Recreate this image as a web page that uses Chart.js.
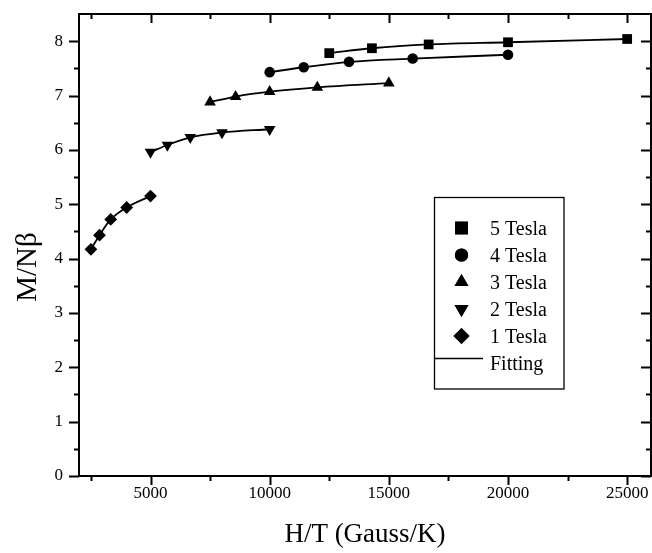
<!DOCTYPE html>
<html>
<head>
<meta charset="utf-8">
<title>M/Nβ vs H/T</title>
<script src="https://cdn.jsdelivr.net/npm/chart.js@4.4.0/dist/chart.umd.min.js"></script>
<style>
  body { margin: 0; background: #fff; }
  #wrap { width: 652px; height: 553px; }
</style>
</head>
<body>
<div id="wrap"><canvas id="c" width="652" height="553"></canvas></div>
<script>
// values
const seriesNames = ['5 Tesla', '4 Tesla', '3 Tesla', '2 Tesla', '1 Tesla'];
const hT5 = [12500, 14290, 16670, 20000, 25000];
const m5  = [7.78, 7.87, 7.94, 7.98, 8.04];
const hT4 = [10000, 11430, 13330, 16000, 20000];
const m4  = [7.43, 7.52, 7.62, 7.68, 7.75];
const hT3 = [7500, 8570, 10000, 12000, 15000];
const m3  = [6.88, 6.98, 7.07, 7.15, 7.23];
const hT2 = [5000, 5710, 6670, 8000, 10000];
const m2  = [5.96, 6.09, 6.23, 6.32, 6.38];
const hT1 = [2500, 2860, 3330, 4000, 5000];
const m1  = [4.17, 4.43, 4.72, 4.94, 5.15];
const xTickLabels = [5000, 10000, 15000, 20000, 25000];
const yTickLabels = [0, 1, 2, 3, 4, 5, 6, 7, 8];

const FONT = "'Liberation Serif', 'Times New Roman', serif";
const xs = [hT5, hT4, hT3, hT2, hT1];
const ys = [m5, m4, m3, m2, m1];
const shapes = [
  { pointStyle: 'rect', radius: 6.9, rotation: 0 },
  { pointStyle: 'circle', radius: 5.3, rotation: 0 },
  { pointStyle: 'triangle', radius: 6.7, rotation: 0 },
  { pointStyle: 'triangle', radius: 6.7, rotation: 180 },
  { pointStyle: 'rectRot', radius: 6.4, rotation: 0 }
];

const xMinor = [2500, 7500, 12500, 17500, 22500];
const yMinor = [0.5, 1.5, 2.5, 3.5, 4.5, 5.5, 6.5, 7.5];

const datasets = seriesNames.map((name, i) => ({
  label: name,
  data: xs[i].map((x, j) => ({ x: x, y: ys[i][j] })),
  showLine: true,
  cubicInterpolationMode: 'monotone',
  borderColor: '#000',
  borderWidth: 1.8,
  backgroundColor: '#000',
  pointStyle: shapes[i].pointStyle,
  pointRadius: shapes[i].radius,
  pointRotation: shapes[i].rotation,
  pointBorderWidth: 0,
  pointBackgroundColor: '#000'
}));

// frame with tick marks, axis titles, boxed legend
const framePlugin = {
  id: 'frame',
  afterDatasetsDraw(chart) {
    const { ctx, chartArea: a, scales } = chart;
    ctx.save();
    ctx.strokeStyle = '#000';
    ctx.lineWidth = 2;
    ctx.strokeRect(a.left, a.top, a.right - a.left, a.bottom - a.top);
    ctx.beginPath();
    const xt = xTickLabels.map(v => [v, 9]).concat(xMinor.map(v => [v, 5]));
    xt.forEach(([v, len]) => {
      const px = Math.round(scales.x.getPixelForValue(v)) + 0.5;
      ctx.moveTo(px, a.bottom); ctx.lineTo(px, a.bottom + len);
      ctx.moveTo(px, a.top); ctx.lineTo(px, a.top + len);
    });
    const yt = yTickLabels.map(v => [v, 10]).concat(yMinor.map(v => [v, 5]));
    yt.forEach(([v, len]) => {
      const py = Math.round(scales.y.getPixelForValue(v)) + 0.5;
      ctx.moveTo(a.left, py); ctx.lineTo(a.left - len, py);
      ctx.moveTo(a.right, py); ctx.lineTo(a.right - len, py);
    });
    ctx.stroke();
    ctx.restore();
  },
  afterDraw(chart) {
    const ctx = chart.ctx;
    ctx.save();
    ctx.fillStyle = '#000';
    // y axis title
    ctx.translate(36, 267);
    ctx.rotate(-Math.PI / 2);
    ctx.font = '29px ' + FONT;
    ctx.textAlign = 'center';
    ctx.textBaseline = 'alphabetic';
    ctx.fillText('M/Nβ', 0, 0);
    ctx.restore();

    // x axis title
    ctx.save();
    ctx.fillStyle = '#000';
    ctx.font = '27px ' + FONT;
    ctx.textAlign = 'center';
    ctx.textBaseline = 'alphabetic';
    ctx.fillText('H/T (Gauss/K)', 365, 541.5);
    ctx.restore();

    // legend
    ctx.save();
    ctx.strokeStyle = '#000';
    ctx.fillStyle = '#000';
    ctx.lineWidth = 1.3;
    ctx.strokeRect(434.5, 197.5, 129.5, 191.5);
    ctx.font = '20px ' + FONT;
    ctx.textAlign = 'left';
    ctx.textBaseline = 'alphabetic';
    const legendRadius = [9, 6.6, 8, 8, 8];
    seriesNames.forEach((name, i) => {
      const base = 235 + i * 27;
      Chart.helpers.drawPoint(ctx, {
        pointStyle: shapes[i].pointStyle,
        radius: legendRadius[i],
        rotation: shapes[i].rotation,
        borderWidth: 0
      }, 461.5, base - 7);
      ctx.fill();
      ctx.fillText(name, 490, base);
    });
    ctx.lineWidth = 1.7;
    ctx.beginPath();
    ctx.moveTo(434, 358.5); ctx.lineTo(483, 358.5);
    ctx.stroke();
    ctx.fillText('Fitting', 490, 370);
    ctx.restore();
  }
};

new Chart(document.getElementById('c'), {
  type: 'scatter',
  data: { datasets: datasets },
  options: {
    responsive: false,
    animation: false,
    layout: { autoPadding: false, padding: { top: 14, right: 1, left: 0, bottom: 0 } },
    plugins: { legend: { display: false }, tooltip: { enabled: false } },
    scales: {
      x: {
        type: 'linear',
        min: 2000,
        max: 26000,
        afterBuildTicks: s => { s.ticks = xTickLabels.map(v => ({ value: v })); },
        afterFit: s => { s.height = 77; s.paddingLeft = 0; s.paddingRight = 0; },
        grid: { display: false, drawTicks: false },
        border: { display: false },
        ticks: {
          autoSkip: false,
          maxRotation: 0,
          padding: 7,
          color: '#000',
          font: { family: FONT, size: 17 },
          callback: v => String(v)
        }
      },
      y: {
        min: 0,
        max: 8.5,
        afterBuildTicks: s => { s.ticks = yTickLabels.map(v => ({ value: v })); },
        afterFit: s => { s.width = 79; s.paddingTop = 0; s.paddingBottom = 0; },
        grid: { display: false, drawTicks: false },
        border: { display: false },
        ticks: {
          padding: 16,
          color: '#000',
          font: { family: FONT, size: 17 },
          callback: v => String(v)
        }
      }
    }
  },
  plugins: [framePlugin]
});
</script>
</body>
</html>
